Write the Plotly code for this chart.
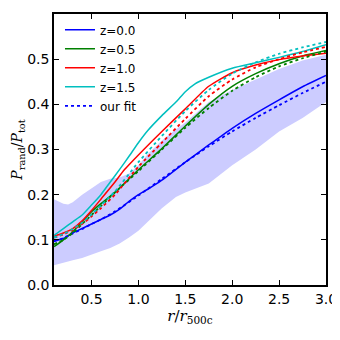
import plotly.graph_objects as go

# radial bins, r / r500c
r_z00 = [0.1, 0.2, 0.3, 0.4, 0.5, 0.6, 0.7, 0.8, 0.9, 1.0, 1.1, 1.25, 1.5, 1.75, 2.0, 2.25, 2.5, 2.75, 3.0]
p_z00 = [0.097, 0.103, 0.115, 0.125, 0.135, 0.145, 0.155, 0.168, 0.185, 0.2, 0.212, 0.232, 0.272, 0.31, 0.347, 0.38, 0.41, 0.439, 0.464]

r_z05 = [0.1, 0.2, 0.3, 0.4, 0.5, 0.6, 0.75, 1.0, 1.25, 1.5, 1.75, 2.0, 2.25, 2.5, 2.75, 3.0]
p_z05 = [0.085, 0.1, 0.118, 0.14, 0.162, 0.18, 0.205, 0.255, 0.302, 0.352, 0.4, 0.44, 0.468, 0.49, 0.507, 0.519]

r_z10 = [0.1, 0.2, 0.3, 0.4, 0.5, 0.6, 0.75, 0.85, 1.0, 1.25, 1.5, 1.75, 2.0, 2.25, 2.5, 2.75, 3.0]
p_z10 = [0.108, 0.115, 0.125, 0.142, 0.165, 0.19, 0.228, 0.255, 0.288, 0.34, 0.39, 0.44, 0.47, 0.487, 0.499, 0.507, 0.513]

r_z15 = [0.1, 0.2, 0.3, 0.4, 0.5, 0.6, 0.7, 0.8, 0.9, 1.0, 1.1, 1.25, 1.4, 1.5, 1.6, 1.75, 2.0, 2.25, 2.5, 2.75, 3.0]
p_z15 = [0.11, 0.125, 0.14, 0.155, 0.177, 0.2, 0.228, 0.256, 0.285, 0.315, 0.342, 0.375, 0.405, 0.428, 0.445, 0.46, 0.48, 0.492, 0.504, 0.517, 0.532]

# fitted model, same grid for all redshifts
r_fit = [0.1, 0.2, 0.3, 0.4, 0.5, 0.6, 0.75, 1.0, 1.25, 1.5, 1.75, 2.0, 2.25, 2.5, 2.75, 3.0]
fit_z00 = [0.097, 0.104, 0.114, 0.124, 0.135, 0.145, 0.163, 0.198, 0.235, 0.272, 0.307, 0.34, 0.37, 0.398, 0.425, 0.45]
fit_z05 = [0.09, 0.1, 0.115, 0.135, 0.155, 0.175, 0.205, 0.252, 0.3, 0.348, 0.392, 0.43, 0.46, 0.484, 0.502, 0.517]
fit_z10 = [0.105, 0.112, 0.122, 0.135, 0.152, 0.17, 0.2, 0.262, 0.315, 0.368, 0.418, 0.455, 0.482, 0.5, 0.515, 0.527]
fit_z15 = [0.105, 0.113, 0.124, 0.138, 0.156, 0.176, 0.207, 0.272, 0.33, 0.385, 0.432, 0.468, 0.493, 0.512, 0.526, 0.538]

# scatter band at z=0
r_band = [0.1, 0.15, 0.2, 0.25, 0.3, 0.4, 0.5, 0.6, 0.7, 0.8, 0.9, 1.0, 1.1, 1.25, 1.4, 1.5, 1.75, 2.0, 2.25, 2.5, 2.75, 3.0]
band_hi = [0.19, 0.185, 0.18, 0.178, 0.183, 0.2, 0.215, 0.228, 0.235, 0.238, 0.247, 0.265, 0.29, 0.32, 0.345, 0.36, 0.405, 0.432, 0.455, 0.478, 0.497, 0.51]
band_lo = [0.044, 0.047, 0.05, 0.052, 0.055, 0.06, 0.068, 0.075, 0.082, 0.092, 0.105, 0.12, 0.14, 0.17, 0.195, 0.205, 0.225, 0.265, 0.3, 0.34, 0.37, 0.405]

colors = {'0.0': '#0000ff', '0.5': '#008000', '1.0': '#ff0000', '1.5': '#00bfbf'}

fig = go.Figure()

fig.add_trace(go.Scatter(x=r_band, y=band_lo, mode='lines', line=dict(width=0),
                         showlegend=False, hoverinfo='skip'))
fig.add_trace(go.Scatter(x=r_band, y=band_hi, mode='lines', line=dict(width=0),
                         fill='tonexty', fillcolor='#ccccff', showlegend=False, hoverinfo='skip'))

for z, xs, ys in [('0.0', r_z00, p_z00), ('0.5', r_z05, p_z05), ('1.0', r_z10, p_z10), ('1.5', r_z15, p_z15)]:
    fig.add_trace(go.Scatter(x=xs, y=ys, mode='lines', name=f'z={z}',
                             line=dict(color=colors[z], width=1.5, shape='spline', smoothing=0.6)))

for i, (z, ys) in enumerate([('0.0', fit_z00), ('0.5', fit_z05), ('1.0', fit_z10), ('1.5', fit_z15)]):
    fig.add_trace(go.Scatter(x=r_fit, y=ys, mode='lines', name='our fit', showlegend=(i == 0),
                             line=dict(color=colors[z], width=1.8, dash='dot', shape='spline', smoothing=0.6)))

axis_style = dict(showline=True, linecolor='black', linewidth=1.5, mirror='allticks',
                  ticks='inside', ticklen=5, tickcolor='black', showgrid=False, zeroline=False,
                  automargin=False,
                  tickfont=dict(family='DejaVu Sans', size=14, color='black'))

fig.update_xaxes(range=[0.1, 3.0], tickvals=[0.5, 1.0, 1.5, 2.0, 2.5, 3.0], tickformat='.1f',
                 title=dict(text='<i>r</i>/<i>r</i><sub>500c</sub>',
                            font=dict(family='DejaVu Serif', size=15, color='black'), standoff=4),
                 **axis_style)
fig.update_yaxes(range=[0.0, 0.6], tickvals=[0.0, 0.1, 0.2, 0.3, 0.4, 0.5, 0.6], tickformat='.1f',
                 title=dict(text='<i>P</i><sub>rand</sub>/<i>P</i><sub>tot</sub>',
                            font=dict(family='DejaVu Serif', size=14, color='black'), standoff=1),
                 **axis_style)

# page body adds an 8px offset, so the figure is drawn 8px smaller
fig.update_layout(width=332, height=332, margin=dict(l=46, r=14, t=6, b=55),
                  plot_bgcolor='white', paper_bgcolor='white',
                  legend=dict(x=0.022, y=0.995, xanchor='left', yanchor='top', bgcolor='rgba(0,0,0,0)',
                              traceorder='normal',
                              font=dict(family='DejaVu Sans', size=12, color='black'),
                              tracegroupgap=0, itemwidth=30))

fig.write_html("out.html")
